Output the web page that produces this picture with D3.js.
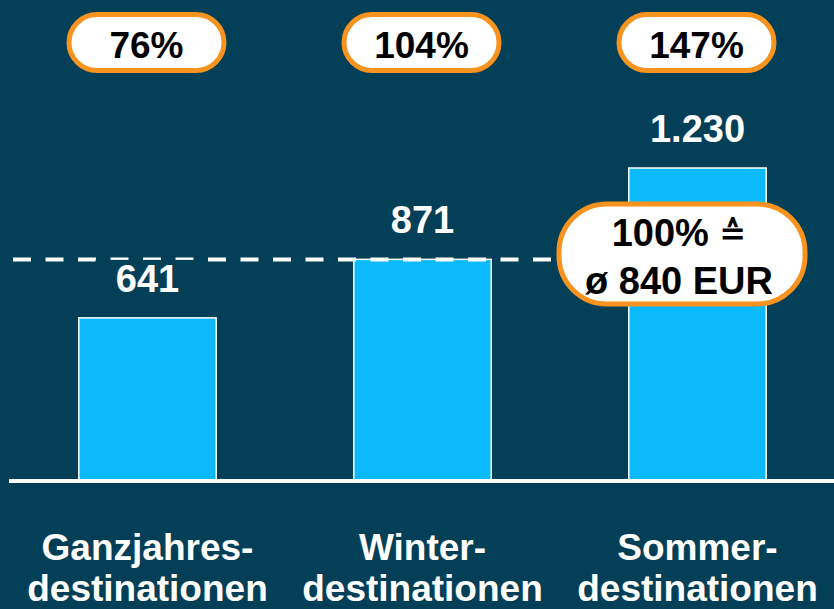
<!DOCTYPE html>
<html>
<head>
<meta charset="utf-8">
<script src="https://cdn.jsdelivr.net/npm/d3@7"></script>
<style>
  html, body { margin: 0; padding: 0; background: #033f57; }
  svg { display: block; }
</style>
</head>
<body>
<svg width="834" height="609"></svg>
<script>
var width = 834, height = 609;

// data
var categories = ['Ganzjahres-|destinationen', 'Winter-|destinationen', 'Sommer-|destinationen'];
var values = [641, 871, 1230];
var valueLabels = ['641', '871', '1.230'];
var indexLabels = ['76%', '104%', '147%'];
var refLevel = 870;   // dashed line sits at the Winter bar level
var refLabel = ['100% ', '\u00f8 840 EUR'];

var bg = '#033f57', barColor = '#0cbafb', orange = '#f7931e';
var font = '"Liberation Sans", Arial, sans-serif';

var svg = d3.select('svg');
svg.append('rect').attr('width', width).attr('height', height).attr('fill', bg);

var x = d3.scaleBand()
  .domain(d3.range(values.length))
  .range([10, 835])
  .paddingInner(0.5)
  .paddingOuter(0.25);

var y = d3.scaleLinear()
  .domain([0, 1230])
  .range([481, 168]);

function cx(i) { return x(i) + x.bandwidth() / 2; }

// bars
svg.selectAll('.bar')
  .data(values)
  .enter()
  .append('rect')
  .attr('class', 'bar')
  .attr('x', function(d, i) { return x(i); })
  .attr('width', x.bandwidth())
  .attr('y', function(d) { return y(d); })
  .attr('height', function(d) { return y(0) - y(d); })
  .attr('fill', barColor)
  .attr('stroke', 'white')
  .attr('stroke-width', 1.5);

// dashed reference line
svg.append('line')
  .attr('x1', 13).attr('x2', 600)
  .attr('y1', y(refLevel)).attr('y2', y(refLevel))
  .attr('stroke', 'white')
  .attr('stroke-width', 4)
  .attr('stroke-dasharray', '18,14.5');

// baseline
svg.append('line')
  .attr('x1', 9).attr('x2', width)
  .attr('y1', y(0)).attr('y2', y(0))
  .attr('stroke', 'white')
  .attr('stroke-width', 4);

// value labels (with a background patch that breaks the dashes)
var vl = svg.selectAll('.val')
  .data(values)
  .enter()
  .append('g')
  .attr('class', 'val');

vl.append('rect')
  .attr('x', function(d, i) { return cx(i) - 52; })
  .attr('y', function(d) { return y(d) - 58; })
  .attr('width', 104)
  .attr('height', 48)
  .attr('fill', bg);

vl.append('text')
  .attr('x', function(d, i) { return cx(i); })
  .attr('y', function(d) { return y(d) - 26; })
  .attr('text-anchor', 'middle')
  .attr('fill', 'white')
  .style('font-family', font)
  .style('font-weight', 'bold')
  .style('font-size', '38px')
  .text(function(d, i) { return valueLabels[i]; });

// top pills
var pill = svg.selectAll('.pill')
  .data(indexLabels)
  .enter()
  .append('g')
  .attr('class', 'pill')
  .attr('transform', function(d, i) { return 'translate(' + (cx(i) - 1) + ',42.5)'; });

pill.append('rect')
  .attr('x', -77.5).attr('y', -28)
  .attr('width', 155).attr('height', 56)
  .attr('rx', 28)
  .attr('fill', 'white')
  .attr('stroke', orange)
  .attr('stroke-width', 5);

pill.append('text')
  .attr('y', 15)
  .attr('text-anchor', 'middle')
  .attr('fill', 'black')
  .style('font-family', font)
  .style('font-weight', 'bold')
  .style('font-size', '37px')
  .text(function(d) { return d; });

// reference callout
var call = svg.append('g').attr('transform', 'translate(682,254)');
call.append('rect')
  .attr('x', -123).attr('y', -50)
  .attr('width', 246).attr('height', 100)
  .attr('rx', 48)
  .attr('fill', 'white')
  .attr('stroke', orange)
  .attr('stroke-width', 5);

var ct = call.selectAll('text.ref')
  .data(refLabel)
  .enter()
  .append('text')
  .attr('class', 'ref')
  .attr('x', -3)
  .attr('y', function(d, i) { return -8 + i * 48; })
  .attr('text-anchor', 'middle')
  .attr('fill', 'black')
  .style('font-family', font)
  .style('font-weight', 'bold')
  .style('font-size', '38px')
  .text(function(d) { return d; });

// "corresponds to" sign after 100%
ct.filter(function(d, i) { return i === 0; })
  .append('tspan')
  .style('font-family', '"DejaVu Sans", sans-serif')
  .style('font-size', '32px')
  .attr('dy', -2)
  .text('\u2259');

// category labels
var cat = svg.selectAll('.cat')
  .data(categories)
  .enter()
  .append('text')
  .attr('class', 'cat')
  .attr('text-anchor', 'middle')
  .attr('fill', 'white')
  .style('font-family', font)
  .style('font-weight', 'bold')
  .style('font-size', '37px');

cat.selectAll('tspan')
  .data(function(d, i) { return d.split('|').map(function(s) { return { s: s, i: i }; }); })
  .enter()
  .append('tspan')
  .attr('x', function(d) { return cx(d.i); })
  .attr('y', function(d, j) { return 560 + j * 41; })
  .text(function(d) { return d.s; });
</script>
</body>
</html>
